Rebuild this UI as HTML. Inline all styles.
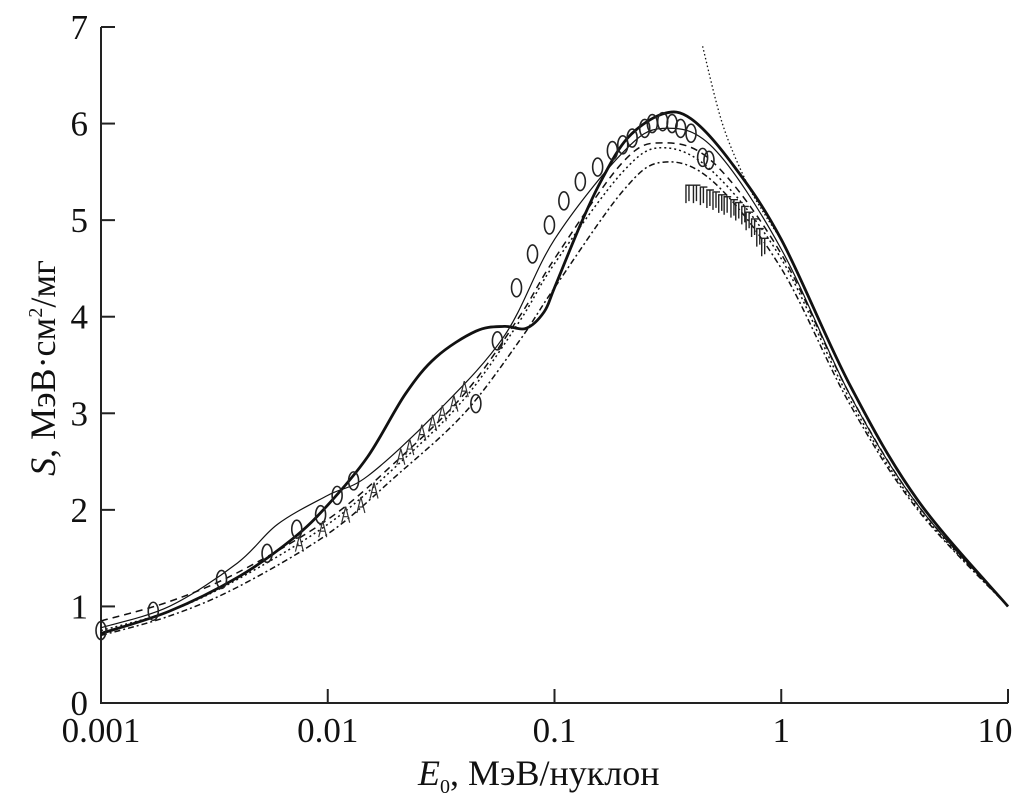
<!DOCTYPE html>
<html><head><meta charset="utf-8"><style>
body{margin:0;background:#fff}
svg{display:block;font-family:"Liberation Serif","Noto Serif CJK SC",serif}
</style></head><body>
<svg id="chart" width="1020" height="811" viewBox="0 0 1020 811"></svg>
<script>
const xTicks=[0.001,0.01,0.1,1,10];
const xTickLabels=["0.001","0.01","0.1","1","10"];
const yTicks=[0,1,2,3,4,5,6,7];
const thickE=[0.001,0.002,0.004,0.007,0.01,0.015,0.022,0.03,0.045,0.06,0.075,0.09,0.1,0.13,0.16,0.21,0.3,0.4,0.6,1,2,4,10];
const thickS=[0.72,0.95,1.3,1.7,2.05,2.55,3.2,3.58,3.85,3.9,3.88,4.05,4.3,4.95,5.4,5.85,6.1,6.05,5.6,4.8,3.3,2.1,1.0];
const thinE=[0.001,0.002,0.004,0.006,0.01,0.015,0.03,0.06,0.1,0.2,0.3,0.5,1,2,4,10];
const thinS=[0.78,1.0,1.45,1.85,2.15,2.35,3.0,3.8,4.8,5.7,5.95,5.75,4.7,3.2,2.05,1.0];
const dashE=[0.001,0.002,0.004,0.01,0.02,0.04,0.07,0.1,0.2,0.3,0.5,1,2,4,10];
const dashS=[0.85,1.05,1.35,1.9,2.5,3.2,4.0,4.6,5.6,5.8,5.6,4.65,3.2,2.05,1.0];
const dashDotE=[0.001,0.002,0.004,0.01,0.02,0.04,0.07,0.1,0.2,0.3,0.5,1,2,4,10];
const dashDotS=[0.7,0.9,1.2,1.75,2.35,3.0,3.75,4.3,5.3,5.6,5.4,4.5,3.1,2.0,1.0];
const dotE=[0.001,0.002,0.004,0.01,0.02,0.04,0.07,0.1,0.2,0.3,0.5,1,2,4,10];
const dotS=[0.75,0.95,1.28,1.85,2.45,3.15,3.95,4.55,5.5,5.75,5.5,4.6,3.15,2.02,1.0];
const steepE=[0.45,0.55,0.7,0.85,1];
const steepS=[6.8,6.0,5.4,5.05,4.8];
const circE=[0.001,0.0017,0.0034,0.0054,0.0073,0.0093,0.011,0.013,0.045,0.056,0.068,0.08,0.095,0.11,0.13,0.155,0.18,0.2,0.22,0.25,0.27,0.3,0.33,0.36,0.4,0.45,0.48];
const circS=[0.75,0.95,1.28,1.55,1.8,1.95,2.15,2.3,3.1,3.75,4.3,4.65,4.95,5.2,5.4,5.55,5.72,5.78,5.85,5.95,6.0,6.02,6.0,5.95,5.9,5.65,5.62];
const fE=[0.38,0.41,0.44,0.47,0.5,0.53,0.56,0.6,0.63,0.67,0.7,0.74,0.78,0.82];
const fS=[5.3,5.3,5.28,5.25,5.23,5.2,5.18,5.15,5.12,5.08,5.02,4.95,4.85,4.75];
const aE=[0.0075,0.0095,0.012,0.014,0.016,0.021,0.023,0.026,0.029,0.032,0.036,0.04];
const aS=[1.65,1.8,1.95,2.05,2.2,2.55,2.65,2.8,2.9,3.0,3.1,3.25];

const X0=101,X1=1008,Y0=703,Y1=27;
const xs=e=>X0+(Math.log10(e)+3)/4*(X1-X0);
const ys=s=>Y0-s/7*(Y0-Y1);
const svg=document.getElementById('chart');
const NS='http://www.w3.org/2000/svg';
function mk(t,a){const el=document.createElementNS(NS,t);for(const k in a)el.setAttribute(k,a[k]);svg.appendChild(el);return el;}
function smooth(E,S){const p=E.map((e,i)=>[xs(e),ys(S[i])]);let d='M'+p[0][0]+','+p[0][1];
for(let i=0;i<p.length-1;i++){const a=p[i-1]||p[i],b=p[i],c=p[i+1],n=p[i+2]||c;
d+=' C'+(b[0]+(c[0]-a[0])/6)+','+(b[1]+(c[1]-a[1])/6)+' '+(c[0]-(n[0]-b[0])/6)+','+(c[1]-(n[1]-b[1])/6)+' '+c[0]+','+c[1];}return d;}
function curve(E,S,w,dash,name){const el=mk('path',{d:smooth(E,S),fill:'none',stroke:'#111','stroke-width':w});if(dash)el.setAttribute('stroke-dasharray',dash);

}
const ax=mk('path',{d:`M${X0},${Y1} V${Y0} H${X1}`,fill:'none',stroke:'#222','stroke-width':2});


yTicks.forEach(v=>{const y=ys(v);
const t=mk('line',{x1:X0,x2:X0+14,y1:y,y2:y,stroke:'#222','stroke-width':2});


const l=mk('text',{x:X0-13,y:y+12,'font-size':35,'text-anchor':'end',fill:'#111'});l.textContent=v;

});
xTicks.forEach((v,i)=>{const x=xs(v);
const t=mk('line',{x1:x,x2:x,y1:Y0,y2:Y0-14,stroke:'#222','stroke-width':2});


const l=mk('text',{x:Math.min(x,995),y:742,'font-size':35,'text-anchor':'middle',fill:'#111'});l.textContent=xTickLabels[i];

});
curve(thinE,thinS,1.2,'','thin-solid-curve');
curve(dashE,dashS,1.5,'7 5','dashed-curve');
curve(dashDotE,dashDotS,1.5,'6 3 2 3','dash-dot-curve');
curve(dotE,dotS,1.5,'2 3','dotted-curve');
curve(steepE,steepS,1.3,'1.5 2.5','steep-dotted-curve');
curve(thickE,thickS,2.8,'','thick-solid-curve');
circE.forEach((e,i)=>{const m=mk('ellipse',{cx:xs(e),cy:ys(circS[i]),rx:5,ry:9,fill:'none',stroke:'#222','stroke-width':1.6});

});
fE.forEach((e,i)=>{const x=xs(e),y=ys(fS[i]);const m=mk('path',{d:`M${x},${y+12} V${y-6} H${x+7} M${x+3},${y-6} V${y+10}`,fill:'none',stroke:'#222','stroke-width':1.4});

});
aE.forEach((e,i)=>{const x=xs(e),y=ys(aS[i]);const m=mk('path',{d:`M${x-4},${y+8} L${x},${y-8} L${x+4},${y+8} M${x-2},${y+2} H${x+3}`,fill:'none',stroke:'#333','stroke-width':1.2});

});
</script>
<div style="position:absolute;left:0;top:0;width:1020px;height:811px;pointer-events:none">
<div style="position:absolute;left:418px;top:752px;font:36px 'Liberation Serif',serif;color:#111;white-space:nowrap"><i>E</i><sub style="font-size:20px">0</sub>, МэВ/нуклон</div>
<div style="position:absolute;left:43px;top:368px;transform:translate(-50%,-50%) rotate(-90deg);font:36px 'Liberation Serif',serif;color:#111;white-space:nowrap"><i>S</i>, МэВ·см<sup style="font-size:20px">2</sup>/мг</div>
</div>
</body></html>
